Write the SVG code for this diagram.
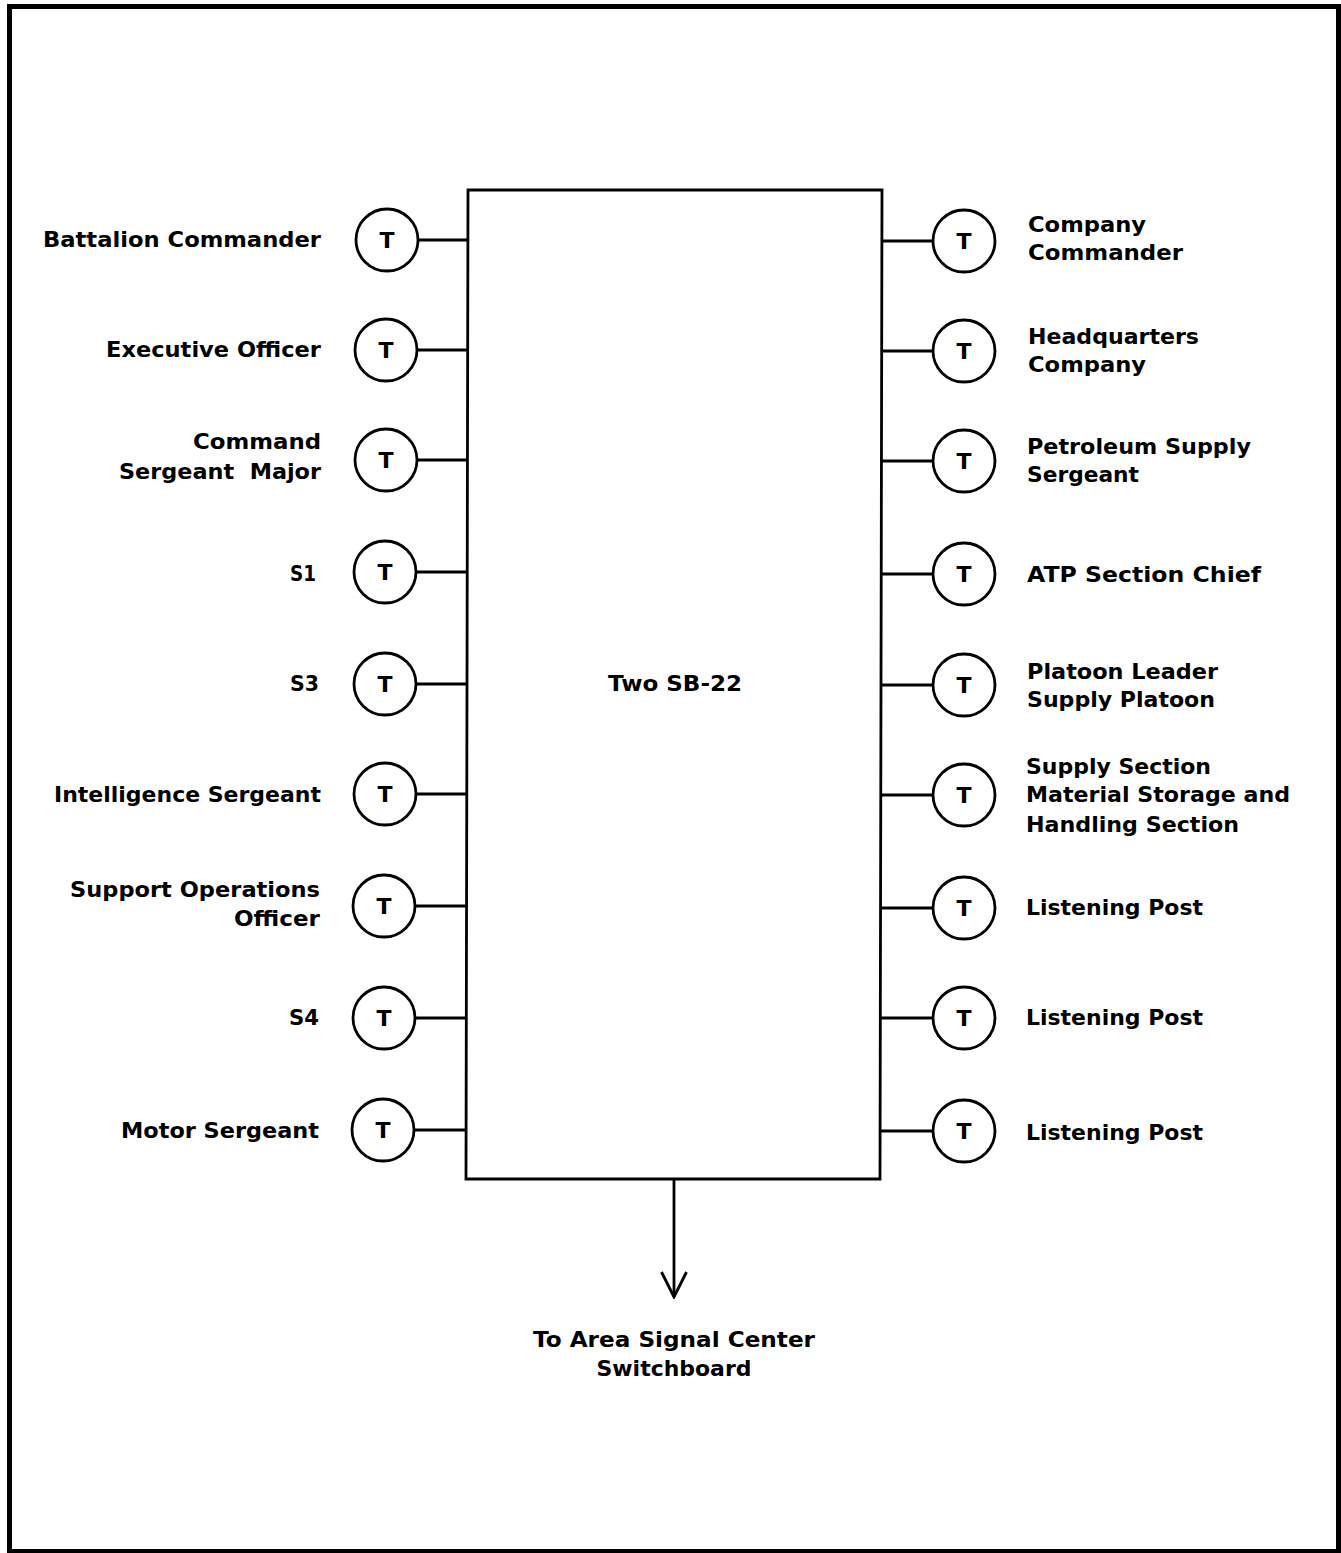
<svg xmlns="http://www.w3.org/2000/svg" width="1341" height="1553" viewBox="0 0 1341 1553">
  <style>
    .frame { fill: none; stroke: #000; stroke-width: 5; }
    .box { fill: #fff; stroke: #000; stroke-width: 2.8; }
    .tel circle { fill: #fff; stroke: #000; stroke-width: 2.8; }
    .t { font-family: "DejaVu Sans", "Liberation Sans", sans-serif; font-weight: bold; font-size: 22px; text-anchor: middle; fill: #000; }
    .lbl { font-family: "DejaVu Sans", "Liberation Sans", sans-serif; font-weight: bold; font-size: 21px; fill: #000; }
    .l { text-anchor: end; }
    .r { text-anchor: start; }
    .c { text-anchor: middle; }
    .wire { stroke: #000; stroke-width: 2.8; fill: none; }
  </style>
  <defs>
    <marker id="vee" markerWidth="28" markerHeight="28" refX="26" refY="13" orient="auto" markerUnits="userSpaceOnUse" viewBox="0 0 28 26">
      <path d="M1,0.5 L26,13 L1,25.5" fill="none" stroke="#000" stroke-width="2.8"/>
    </marker>
  </defs>

  <rect width="1341" height="1553" fill="#fff"/>
  <rect class="frame" x="9.5" y="6.5" width="1329" height="1545"/>

  <!-- connectors -->
  <g id="connectors">
    <line class="wire" x1="418" y1="240" x2="468" y2="240"/>
    <line class="wire" x1="417" y1="350" x2="468" y2="350"/>
    <line class="wire" x1="417" y1="460" x2="468" y2="460"/>
    <line class="wire" x1="416" y1="572" x2="467" y2="572"/>
    <line class="wire" x1="416" y1="684" x2="467" y2="684"/>
    <line class="wire" x1="416" y1="794" x2="467" y2="794"/>
    <line class="wire" x1="415" y1="906" x2="467" y2="906"/>
    <line class="wire" x1="415" y1="1018" x2="466" y2="1018"/>
    <line class="wire" x1="414" y1="1130" x2="466" y2="1130"/>

    <line class="wire" x1="882" y1="241" x2="933" y2="241"/>
    <line class="wire" x1="882" y1="351" x2="933" y2="351"/>
    <line class="wire" x1="882" y1="461" x2="933" y2="461"/>
    <line class="wire" x1="881" y1="574" x2="933" y2="574"/>
    <line class="wire" x1="881" y1="685" x2="933" y2="685"/>
    <line class="wire" x1="881" y1="795" x2="933" y2="795"/>
    <line class="wire" x1="881" y1="908" x2="933" y2="908"/>
    <line class="wire" x1="880" y1="1018" x2="933" y2="1018"/>
    <line class="wire" x1="880" y1="1131" x2="933" y2="1131"/>

    <line class="wire" x1="674" y1="1179" x2="674" y2="1297" marker-end="url(#vee)"/>
  </g>

  <!-- switchboard -->
  <g id="switchboard">
    <polygon class="box" points="468,190 882,190 880,1179 466,1179"/>
    <text class="lbl c" x="675" y="691" textLength="134" lengthAdjust="spacingAndGlyphs">Two SB-22</text>
  </g>

  <!-- left telephones -->
  <g id="t-battalion-commander" class="tel">
    <circle cx="387" cy="240" r="31"/><text class="t" x="387" y="248">T</text>
    <text class="lbl l" x="321" y="247" textLength="278" lengthAdjust="spacingAndGlyphs">Battalion Commander</text>
  </g>
  <g id="t-executive-officer" class="tel">
    <circle cx="386" cy="350" r="31"/><text class="t" x="386" y="358">T</text>
    <text class="lbl l" x="321" y="357" textLength="215" lengthAdjust="spacingAndGlyphs">Executive Officer</text>
  </g>
  <g id="t-command-sergeant-major" class="tel">
    <circle cx="386" cy="460" r="31"/><text class="t" x="386" y="468">T</text>
    <text class="lbl l" x="321" y="449" textLength="128" lengthAdjust="spacingAndGlyphs">Command</text>
    <text class="lbl l" x="321" y="479" textLength="202" lengthAdjust="spacingAndGlyphs" xml:space="preserve">Sergeant  Major</text>
  </g>
  <g id="t-s1" class="tel">
    <circle cx="385" cy="572" r="31"/><text class="t" x="385" y="580">T</text>
    <text class="lbl l" x="316" y="581" textLength="26" lengthAdjust="spacingAndGlyphs">S1</text>
  </g>
  <g id="t-s3" class="tel">
    <circle cx="385" cy="684" r="31"/><text class="t" x="385" y="692">T</text>
    <text class="lbl l" x="319" y="691" textLength="29" lengthAdjust="spacingAndGlyphs">S3</text>
  </g>
  <g id="t-intelligence-sergeant" class="tel">
    <circle cx="385" cy="794" r="31"/><text class="t" x="385" y="802">T</text>
    <text class="lbl l" x="321" y="802" textLength="267" lengthAdjust="spacingAndGlyphs">Intelligence Sergeant</text>
  </g>
  <g id="t-support-operations-officer" class="tel">
    <circle cx="384" cy="906" r="31"/><text class="t" x="384" y="914">T</text>
    <text class="lbl l" x="320" y="897" textLength="250" lengthAdjust="spacingAndGlyphs">Support Operations</text>
    <text class="lbl l" x="320" y="926" textLength="86" lengthAdjust="spacingAndGlyphs">Officer</text>
  </g>
  <g id="t-s4" class="tel">
    <circle cx="384" cy="1018" r="31"/><text class="t" x="384" y="1026">T</text>
    <text class="lbl l" x="319" y="1025" textLength="30" lengthAdjust="spacingAndGlyphs">S4</text>
  </g>
  <g id="t-motor-sergeant" class="tel">
    <circle cx="383" cy="1130" r="31"/><text class="t" x="383" y="1138">T</text>
    <text class="lbl l" x="319" y="1138" textLength="198" lengthAdjust="spacingAndGlyphs">Motor Sergeant</text>
  </g>

  <!-- right telephones -->
  <g id="t-company-commander" class="tel">
    <circle cx="964" cy="241" r="31"/><text class="t" x="964" y="249">T</text>
    <text class="lbl r" x="1028" y="232" textLength="118" lengthAdjust="spacingAndGlyphs">Company</text>
    <text class="lbl r" x="1028" y="260" textLength="155" lengthAdjust="spacingAndGlyphs">Commander</text>
  </g>
  <g id="t-headquarters-company" class="tel">
    <circle cx="964" cy="351" r="31"/><text class="t" x="964" y="359">T</text>
    <text class="lbl r" x="1028" y="344" textLength="171" lengthAdjust="spacingAndGlyphs">Headquarters</text>
    <text class="lbl r" x="1028" y="372" textLength="118" lengthAdjust="spacingAndGlyphs">Company</text>
  </g>
  <g id="t-petroleum-supply-sergeant" class="tel">
    <circle cx="964" cy="461" r="31"/><text class="t" x="964" y="469">T</text>
    <text class="lbl r" x="1027" y="454" textLength="224" lengthAdjust="spacingAndGlyphs">Petroleum Supply</text>
    <text class="lbl r" x="1027" y="482" textLength="112" lengthAdjust="spacingAndGlyphs">Sergeant</text>
  </g>
  <g id="t-atp-section-chief" class="tel">
    <circle cx="964" cy="574" r="31"/><text class="t" x="964" y="582">T</text>
    <text class="lbl r" x="1027" y="582" textLength="234" lengthAdjust="spacingAndGlyphs">ATP Section Chief</text>
  </g>
  <g id="t-platoon-leader" class="tel">
    <circle cx="964" cy="685" r="31"/><text class="t" x="964" y="693">T</text>
    <text class="lbl r" x="1027" y="679" textLength="191" lengthAdjust="spacingAndGlyphs">Platoon Leader</text>
    <text class="lbl r" x="1027" y="707" textLength="188" lengthAdjust="spacingAndGlyphs">Supply Platoon</text>
  </g>
  <g id="t-supply-section" class="tel">
    <circle cx="964" cy="795" r="31"/><text class="t" x="964" y="803">T</text>
    <text class="lbl r" x="1026" y="774" textLength="185" lengthAdjust="spacingAndGlyphs">Supply Section</text>
    <text class="lbl r" x="1026" y="802" textLength="264" lengthAdjust="spacingAndGlyphs">Material Storage and</text>
    <text class="lbl r" x="1026" y="832" textLength="213" lengthAdjust="spacingAndGlyphs">Handling Section</text>
  </g>
  <g id="t-listening-post-1" class="tel">
    <circle cx="964" cy="908" r="31"/><text class="t" x="964" y="916">T</text>
    <text class="lbl r" x="1026" y="915" textLength="177" lengthAdjust="spacingAndGlyphs">Listening Post</text>
  </g>
  <g id="t-listening-post-2" class="tel">
    <circle cx="964" cy="1018" r="31"/><text class="t" x="964" y="1026">T</text>
    <text class="lbl r" x="1026" y="1025" textLength="177" lengthAdjust="spacingAndGlyphs">Listening Post</text>
  </g>
  <g id="t-listening-post-3" class="tel">
    <circle cx="964" cy="1131" r="31"/><text class="t" x="964" y="1139">T</text>
    <text class="lbl r" x="1026" y="1140" textLength="177" lengthAdjust="spacingAndGlyphs">Listening Post</text>
  </g>

  <!-- trunk destination -->
  <g id="area-signal-center">
    <text class="lbl c" x="674" y="1347" textLength="282" lengthAdjust="spacingAndGlyphs">To Area Signal Center</text>
    <text class="lbl c" x="674" y="1376" textLength="155" lengthAdjust="spacingAndGlyphs">Switchboard</text>
  </g>
</svg>
